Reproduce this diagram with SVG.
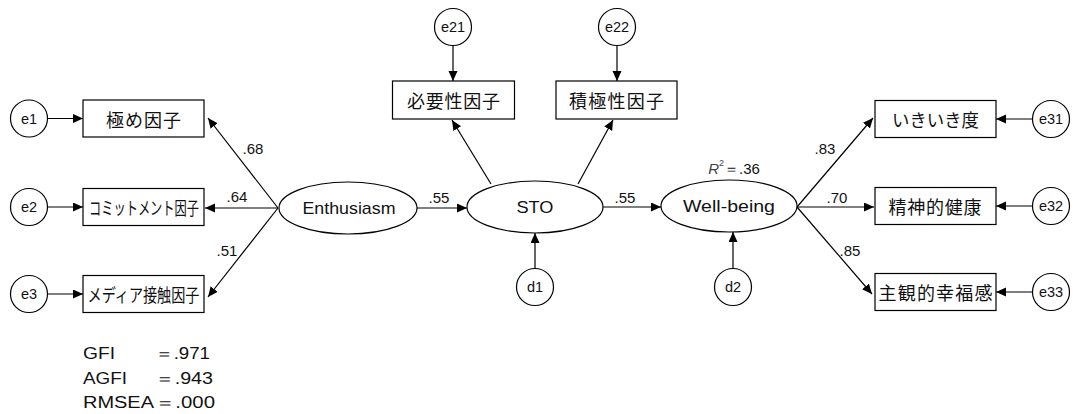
<svg xmlns="http://www.w3.org/2000/svg" width="1073" height="414" viewBox="0 0 1073 414">
  <style>
    .box { fill: #fff; stroke: #000; stroke-width: 1.2; }
    .err { fill: #fff; stroke: #000; stroke-width: 1.2; }
    .lat { fill: #fff; stroke: #000; stroke-width: 1.2; }
    .edge { stroke: #000; stroke-width: 1.2; fill: none; marker-end: url(#arrow); }
    .jp { font-family: "Noto Sans CJK JP", sans-serif; font-size: 18px; fill: #111; text-anchor: middle; dominant-baseline: central; }
    .en { font-family: "Liberation Sans", Arial, sans-serif; font-size: 17px; fill: #111; text-anchor: middle; dominant-baseline: central; }
    .sm { font-family: "Liberation Sans", Arial, sans-serif; font-size: 14.5px; fill: #111; text-anchor: middle; dominant-baseline: central; }
    .coef { font-family: "Liberation Sans", Arial, sans-serif; font-size: 15px; fill: #111; text-anchor: middle; dominant-baseline: central; }
    .fit { font-family: "Liberation Sans", Arial, sans-serif; font-size: 16px; fill: #111; }
  </style>
  <defs>
    <marker id="arrow" markerUnits="userSpaceOnUse" markerWidth="11" markerHeight="10" refX="10" refY="4.5" orient="auto">
      <path d="M0,0 L10,4.5 L0,9 Z" fill="#000"/>
    </marker>
  </defs>
  <rect width="1073" height="414" fill="#fff"/>

  <!-- paths -->
  <g id="connectors">
    <!-- errors into indicators -->
    <line class="edge" x1="47.5" y1="118.5" x2="83" y2="118.5"/>
    <line class="edge" x1="47.5" y1="207" x2="83" y2="207"/>
    <line class="edge" x1="47.5" y1="294" x2="83" y2="294"/>
    <line class="edge" x1="453" y1="45.5" x2="453" y2="81"/>
    <line class="edge" x1="617" y1="45.5" x2="617" y2="81"/>
    <line class="edge" x1="1032.5" y1="119" x2="996" y2="119"/>
    <line class="edge" x1="1032.5" y1="206" x2="996" y2="206"/>
    <line class="edge" x1="1032.5" y1="292" x2="996" y2="292"/>
    <!-- Enthusiasm loadings -->
    <line class="edge" x1="278" y1="208" x2="208" y2="118"/>
    <line class="edge" x1="278" y1="208" x2="205" y2="208"/>
    <line class="edge" x1="278" y1="208" x2="208" y2="297"/>
    <!-- structural paths -->
    <line class="edge" x1="417" y1="208" x2="467" y2="208"/>
    <line class="edge" x1="603" y1="207" x2="661" y2="207"/>
    <!-- STO loadings -->
    <line class="edge" x1="491" y1="184" x2="452" y2="120"/>
    <line class="edge" x1="578" y1="184" x2="613" y2="120"/>
    <!-- disturbances -->
    <line class="edge" x1="535" y1="268.5" x2="535" y2="233"/>
    <line class="edge" x1="733" y1="268.5" x2="733" y2="232"/>
    <!-- Well-being loadings -->
    <line class="edge" x1="797" y1="207" x2="873" y2="118"/>
    <line class="edge" x1="797" y1="207" x2="874" y2="207"/>
    <line class="edge" x1="797" y1="207" x2="872" y2="294"/>
  </g>

  <!-- coefficient labels -->
  <g id="coefficients">
    <text class="coef" x="253" y="148">.68</text>
    <text class="coef" x="237" y="196">.64</text>
    <text class="coef" x="227" y="250">.51</text>
    <text class="coef" x="439" y="197">.55</text>
    <text class="coef" x="625" y="197">.55</text>
    <text class="coef" x="825" y="148">.83</text>
    <text class="coef" x="837" y="197">.70</text>
    <text class="coef" x="850" y="250">.85</text>
    <text class="coef" x="734" y="168"><tspan font-style="italic" fill="#444">R</tspan><tspan font-size="9" dy="-5" fill="#444">2</tspan><tspan dy="5">＝.36</tspan></text>
  </g>

  <!-- latent variables -->
  <g id="enthusiasm">
    <ellipse class="lat" cx="348" cy="208" rx="69" ry="26"/>
    <text class="en" x="349" y="208" textLength="93" lengthAdjust="spacingAndGlyphs">Enthusiasm</text>
  </g>
  <g id="sto">
    <ellipse class="lat" cx="535" cy="207" rx="68" ry="26"/>
    <text class="en" x="535" y="207" textLength="37" lengthAdjust="spacingAndGlyphs">STO</text>
  </g>
  <g id="wellbeing">
    <ellipse class="lat" cx="729" cy="206" rx="68" ry="26"/>
    <text class="en" x="729" y="206" textLength="92" lengthAdjust="spacingAndGlyphs">Well-being</text>
  </g>

  <!-- observed indicators -->
  <g id="kiwame">
    <rect class="box" x="83" y="100" width="121" height="37"/>
    <text class="jp" x="143.5" y="118.5" textLength="75" lengthAdjust="spacing">極め因子</text>
  </g>
  <g id="commitment">
    <rect class="box" x="83" y="188.5" width="121" height="37"/>
    <!-- narrow katakana: horizontally condensed -->
    <text class="jp" transform="translate(144,207) scale(0.68,1)" x="0" y="0">コミットメント因子</text>
  </g>
  <g id="media">
    <rect class="box" x="83" y="275.5" width="121" height="37"/>
    <text class="jp" transform="translate(143.5,294) scale(0.785,1)" x="0" y="0">メディア接触因子</text>
  </g>
  <g id="hitsuyou">
    <rect class="box" x="392.5" y="81" width="122" height="38"/>
    <text class="jp" x="453.5" y="100" textLength="93" lengthAdjust="spacing">必要性因子</text>
  </g>
  <g id="sekkyoku">
    <rect class="box" x="556" y="81" width="121" height="38"/>
    <text class="jp" x="616.5" y="100" textLength="95" lengthAdjust="spacing">積極性因子</text>
  </g>
  <g id="ikiiki">
    <rect class="box" x="875" y="100.5" width="121" height="37"/>
    <text class="jp" x="935.5" y="119" textLength="87" lengthAdjust="spacingAndGlyphs">いきいき度</text>
  </g>
  <g id="seishin">
    <rect class="box" x="875" y="187.5" width="121" height="37"/>
    <text class="jp" x="935" y="206" textLength="93" lengthAdjust="spacing">精神的健康</text>
  </g>
  <g id="shukan">
    <rect class="box" x="875" y="273.5" width="121" height="37"/>
    <text class="jp" x="935.5" y="292" textLength="114" lengthAdjust="spacing">主観的幸福感</text>
  </g>

  <!-- error and disturbance terms -->
  <g id="e1"><circle class="err" cx="29" cy="118.5" r="18.5"/><text class="sm" x="29" y="118.5">e1</text></g>
  <g id="e2"><circle class="err" cx="29" cy="207" r="18.5"/><text class="sm" x="29" y="207">e2</text></g>
  <g id="e3"><circle class="err" cx="29" cy="294" r="18.5"/><text class="sm" x="29" y="294">e3</text></g>
  <g id="e21"><circle class="err" cx="453" cy="27" r="18.5"/><text class="sm" x="453" y="27">e21</text></g>
  <g id="e22"><circle class="err" cx="617" cy="27" r="18.5"/><text class="sm" x="617" y="27">e22</text></g>
  <g id="d1"><circle class="err" cx="535" cy="287" r="18.5"/><text class="sm" x="535" y="287">d1</text></g>
  <g id="d2"><circle class="err" cx="733" cy="287" r="18.5"/><text class="sm" x="733" y="287">d2</text></g>
  <g id="e31"><circle class="err" cx="1051" cy="119" r="18.5"/><text class="sm" x="1051" y="119">e31</text></g>
  <g id="e32"><circle class="err" cx="1051" cy="206" r="18.5"/><text class="sm" x="1051" y="206">e32</text></g>
  <g id="e33"><circle class="err" cx="1051" cy="292" r="18.5"/><text class="sm" x="1051" y="292">e33</text></g>

  <!-- fit indices -->
  <g id="fit-indices">
    <text class="fit" x="83" y="359" textLength="32" lengthAdjust="spacingAndGlyphs">GFI</text>
    <text class="fit" x="155" y="359" textLength="55" lengthAdjust="spacingAndGlyphs">＝.971</text>
    <text class="fit" x="83" y="384" textLength="44" lengthAdjust="spacingAndGlyphs">AGFI</text>
    <text class="fit" x="155" y="384" textLength="58" lengthAdjust="spacingAndGlyphs">＝.943</text>
    <text class="fit" x="83" y="408" textLength="71" lengthAdjust="spacingAndGlyphs">RMSEA</text>
    <text class="fit" x="155" y="408" textLength="60" lengthAdjust="spacingAndGlyphs">＝.000</text>
  </g>
</svg>
